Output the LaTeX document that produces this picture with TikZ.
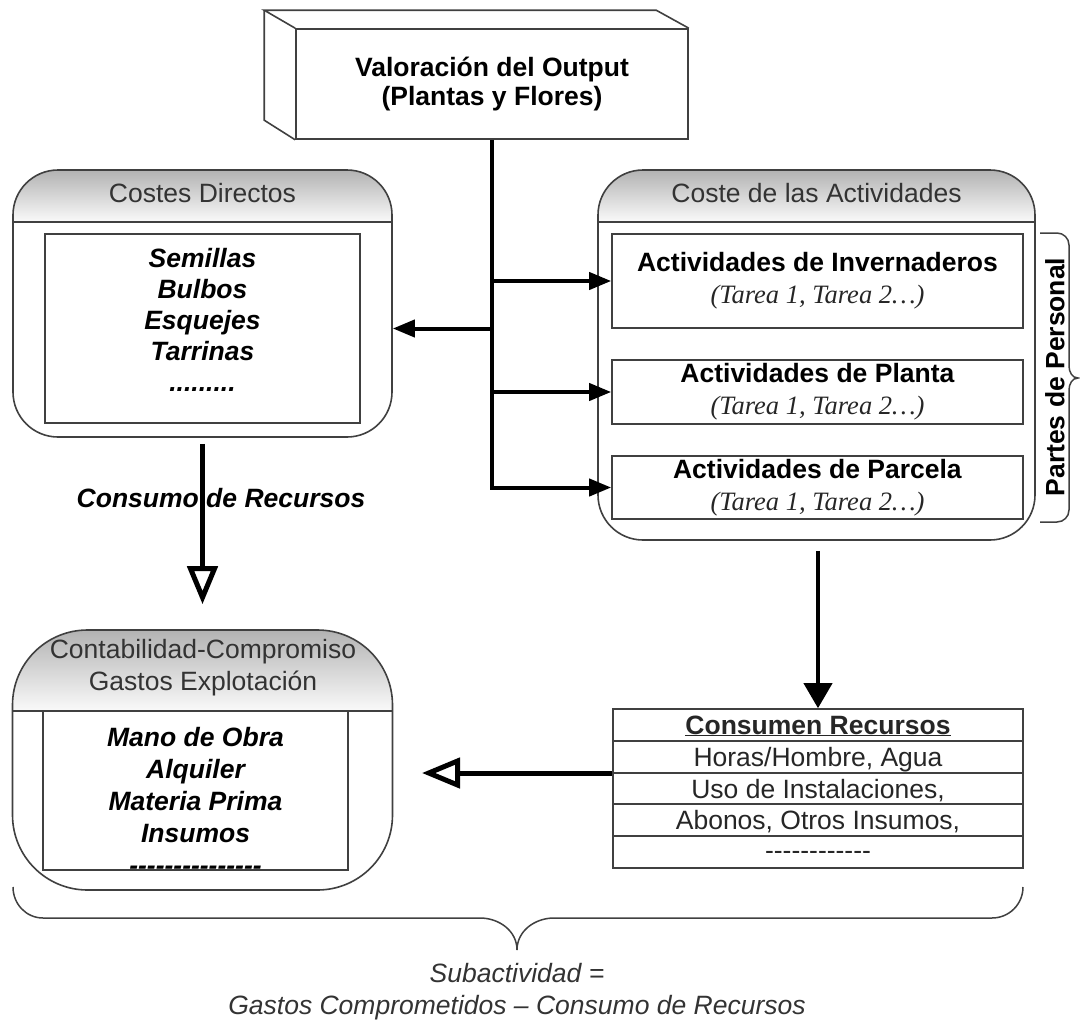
\documentclass[tikz,border=0pt]{standalone}
\usepackage{fontspec}
\setmainfont{Liberation Sans}[Ligatures=TeXOff]
\newfontfamily\tareafont{Liberation Serif}
\usetikzlibrary{arrows.meta}

\tikzset{
  panel/.style={draw=black!75, line width=1.6pt},
  headfill/.style={top color=black!30, bottom color=black!2},
  listbox/.style={draw=black!75, line width=1.6pt, inner sep=0pt},
  actbox/.style={listbox, minimum width=411pt, align=center, font=\fontsize{26.5}{32}\selectfont},
  hdr/.style={font=\fontsize{26.5}{32}\selectfont, text=black!80, inner sep=0pt, align=center},
  items/.style={font=\fontsize{26.5}{31}\selectfont\bfseries\itshape, align=center, inner sep=0pt},
  rowtext/.style={font=\fontsize{26.5}{32}\selectfont, text=black!85, inner sep=0pt, anchor=base},
  conn/.style={line width=4pt, -{Triangle[length=22pt,width=17pt]}},
  hollow/.style={line width=5pt, -{Triangle[open,length=38pt,width=30pt]}},
  curly/.style={line width=1.5pt, draw=black!75}
}

\begin{document}
\begin{tikzpicture}[x=1pt, y=1pt]
    \useasboundingbox (0,0) rectangle (1080,-1023);

    % Output box (3D)
    \node[panel, fill=white, minimum width=392pt, minimum height=110pt, align=center,
          font=\fontsize{26.5}{29}\selectfont\bfseries] (valor) at (492,-84)
          {Valoración del Output\\(Plantas y Flores)};
    \draw[panel] (valor.north west) -- ++(-31,18) -- ++(392,0) -- (valor.north east);
    \draw[panel] (valor.north west) ++(-31,18) -- ++(0,-110) -- (valor.south west);

    % Costes Directos
    \shade[headfill] (13,-222) -- (13,-215) arc[start angle=180, end angle=90, radius=45pt]
        -- (347,-170) arc[start angle=90, end angle=0, radius=45pt] -- (392,-222) -- cycle;
    \node[panel, rounded corners=45pt, minimum width=379pt, minimum height=267pt] (cd) at (202.5,-303.5) {};
    \draw[panel] (13,-222) -- (392,-222);
    \node[hdr, anchor=base] (cdhead) at (202.5,-202) {Costes Directos};
    \node[listbox, minimum width=315pt, minimum height=189pt] (cdlist) at (202.5,-328.5) {};
    \node[items] (cditems) at (202.5,-320) {Semillas\\Bulbos\\Esquejes\\Tarrinas\\.........};

    % Coste de las Actividades
    \shade[headfill] (598,-222) -- (598,-215) arc[start angle=180, end angle=90, radius=45pt]
        -- (990,-170) arc[start angle=90, end angle=0, radius=45pt] -- (1035,-222) -- cycle;
    \node[panel, rounded corners=45pt, minimum width=437pt, minimum height=370pt] (ca) at (816.5,-355) {};
    \draw[panel] (598,-222) -- (1035,-222);
    \node[hdr, anchor=base] (cahead) at (816.5,-202) {Coste de las Actividades};
    \node[actbox, minimum height=94pt] (inv) at (817.5,-281)
        {\textbf{Actividades de Invernaderos}\\{\tareafont\itshape\color{black!85}(Tarea 1, Tarea 2…)}};
    \node[actbox, minimum height=64pt] (pla) at (817.5,-392)
        {\textbf{Actividades de Planta}\\{\tareafont\itshape\color{black!85}(Tarea 1, Tarea 2…)}};
    \node[actbox, minimum height=63pt] (par) at (817.5,-487.5)
        {\textbf{Actividades de Parcela}\\{\tareafont\itshape\color{black!85}(Tarea 1, Tarea 2…)}};

    % Partes de Personal
    \draw[curly] (1040,-233) -- (1057,-233) to[out=0,in=90] (1069,-245) -- (1069,-366)
        to[out=-90,in=180] (1078,-378) to[out=180,in=90] (1069,-390) -- (1069,-510)
        to[out=-90,in=0] (1057,-522) -- (1040,-522);
    \node[font=\fontsize{26.5}{32}\selectfont\bfseries, rotate=90, inner sep=0pt] (partes) at (1055,-377) {Partes de Personal};

    % Valoracion -> costes
    \coordinate (tInv) at (valor.south |- inv.west);
    \coordinate (tPla) at (valor.south |- pla.west);
    \coordinate (tCd) at (valor.south |- cdlist.east);
    \draw[conn] (valor.south) |- (par.west);
    \draw[conn] (tInv) -- (inv.west);
    \draw[conn] (tPla) -- (pla.west);
    \draw[conn] (tCd) -- (cd.east |- cdlist.east);

    % Consumen Recursos
    \node[listbox, minimum width=410pt, minimum height=159pt] (cons) at (818,-788.5) {};
    \draw[panel] (613,-741) -- (1023,-741);
    \draw[panel] (613,-773) -- (1023,-773);
    \draw[panel] (613,-804) -- (1023,-804);
    \draw[panel] (613,-836) -- (1023,-836);
    \node[rowtext] (r1) at (818,-734) {\textbf{\underline{Consumen Recursos}}};
    \node[rowtext] (r2) at (818,-766) {Horas/Hombre, Agua};
    \node[rowtext] (r3) at (818,-798) {Uso de Instalaciones,};
    \node[rowtext] (r4) at (818,-829) {Abonos, Otros Insumos,};
    \node[rowtext] (r5) at (818,-859) {------------};
    \path (ca.south -| cons.north) coordinate (caout);
    \draw[conn, -{Triangle[length=25pt,width=28pt]}] ([yshift=-10pt]caout) -- (cons.north);

    % Contabilidad-Compromiso
    \shade[headfill] (12.5,-711) -- (12.5,-705) arc[start angle=180, end angle=90, radius=75pt]
        -- (317.5,-630) arc[start angle=90, end angle=0, radius=75pt] -- (392.5,-711) -- cycle;
    \node[panel, rounded corners=75pt, minimum width=380pt, minimum height=260pt] (cc) at (202.5,-760) {};
    \draw[panel] (12.5,-711) -- (392.5,-711);
    \node[hdr] (cchead) at (203,-668) {Contabilidad-Compromiso\\Gastos Explotación};
    \node[listbox, minimum width=305pt, minimum height=159pt] (cclist) at (195.5,-790.5) {};
    \node[items, font=\fontsize{26.5}{32}\selectfont\bfseries\itshape] (ccitems) at (195.5,-800.5)
        {Mano de Obra\\Alquiler\\Materia Prima\\Insumos\\---------------};

    % Consumo de Recursos
    \node[font=\fontsize{26.5}{32}\selectfont\bfseries\itshape, inner sep=0pt, anchor=base] (lblcons) at (221,-507) {Consumo de Recursos};
    \draw[hollow] ([yshift=-6pt]cd.south) -- ([yshift=25pt]cc.north);
    \coordinate (ccin) at (422,-773);
    \draw[hollow] (cons.west |- 0,-773) -- (ccin);

    % Subactividad
    \draw[curly] (13,-887) to[out=-90,in=180] (43,-918) -- (480,-918) to[out=0,in=90] (517,-950)
        to[out=90,in=180] (554,-918) -- (992,-918) to[out=0,in=-90] (1023,-887);
    \node[font=\fontsize{26.5}{32}\selectfont\itshape, align=center, text=black!80, inner sep=0pt] (subact) at (517,-992)
        {Subactividad =\\Gastos Comprometidos – Consumo de Recursos};
\end{tikzpicture}
\end{document}
